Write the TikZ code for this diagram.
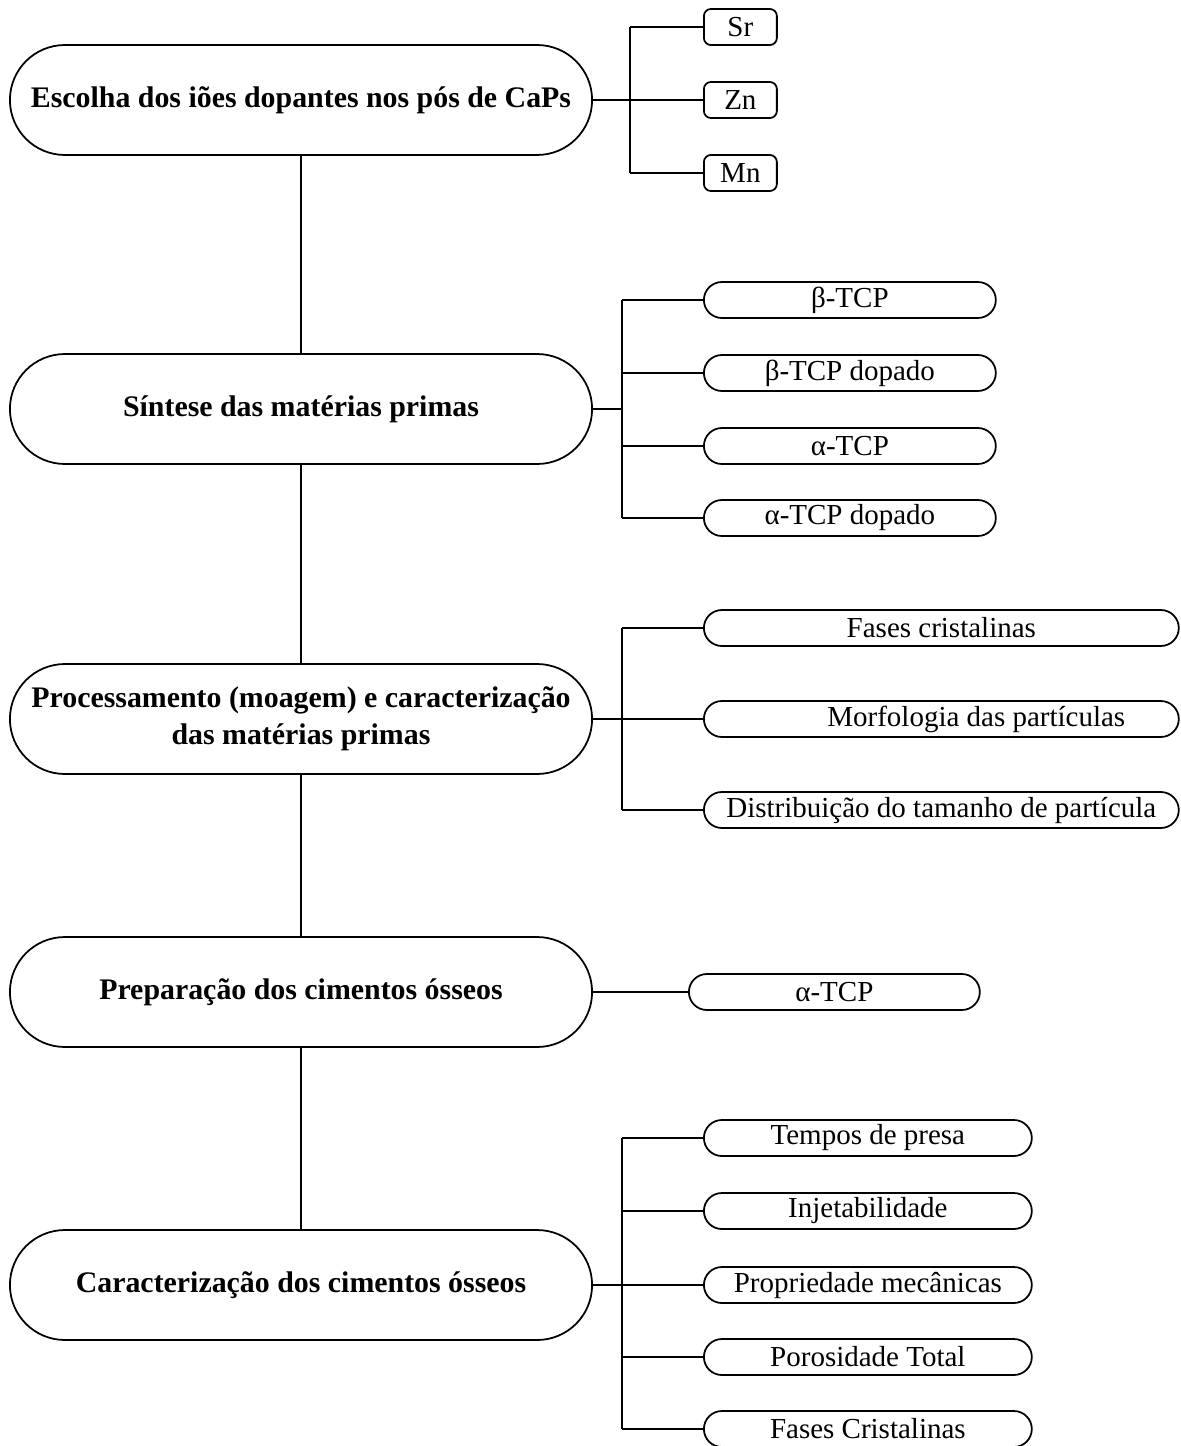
\documentclass[tikz,border=0pt]{standalone}
\usepackage{fontspec}
\setmainfont{Liberation Serif}
\usepackage{xcolor}
\usepackage{tikz}
\usetikzlibrary{positioning, shapes.misc}

\tikzset{
  liga/.style={line width=1pt},
  etapa/.style={draw, rounded rectangle, line width=1pt, minimum width=11.88cm,
    minimum height=2.2cm, align=center, font=\fontsize{17}{21}\selectfont\bfseries},
  item/.style={draw, rounded rectangle, line width=1pt, minimum height=0.72cm,
    inner sep=0pt, anchor=west, font=\fontsize{16.5}{20}\selectfont},
  ion/.style={draw, rounded corners=4pt, line width=1pt, minimum width=1.46cm,
    minimum height=0.72cm, inner sep=0pt, anchor=west, font=\fontsize{16.5}{20}\selectfont}
}

\begin{document}
\begin{tikzpicture}[x=0.02cm, y=-0.02cm]
    \useasboundingbox (0,0) rectangle (1180,1446);
    % etapas principais
    \node[etapa] (esc) at (301,100) {Escolha dos iões dopantes nos pós de CaPs};
    \node[etapa] (sin) at (301,409) {Síntese das matérias primas};
    \node[etapa] (proc) at (301,719) {Processamento (moagem) e caracterização\\das matérias primas};
    \node[etapa] (prep) at (301,992) {Preparação dos cimentos ósseos};
    \node[etapa] (carac) at (301,1285) {Caracterização dos cimentos ósseos};
    \draw[liga] (esc) -- (sin) (sin) -- (proc) (proc) -- (prep) (prep) -- (carac);

    % iões dopantes
    \coordinate (esc-r) at (630,100);
    \draw[liga] (esc.east) -- (esc-r);
    \foreach \nome/\txt/\yp in {sr/Sr/27, zn/Zn/100, mn/Mn/173} {
      \node[ion] (\nome) at (703,\yp) {\txt};
      \draw[liga] (esc-r |- \nome.west) -- (\nome.west);
    }
    \draw[liga] (esc-r |- sr.west) -- (esc-r |- mn.west);

    % matérias primas
    \coordinate (sin-r) at (622,409);
    \draw[liga] (sin.east) -- (sin-r);
    \foreach \nome/\txt/\yp in {bt/β-TCP/300, btd/β-TCP dopado/373,
        at/α-TCP/446, atd/α-TCP dopado/518} {
      \node[item, minimum width=5.84cm] (\nome) at (703,\yp) {\txt};
      \draw[liga] (sin-r |- \nome.west) -- (\nome.west);
    }
    \draw[liga] (sin-r |- bt.west) -- (sin-r |- atd.west);

    % caracterização dos pós
    \coordinate (proc-r) at (622,719);
    \draw[liga] (proc.east) -- (proc-r);
    \foreach \nome/\txt/\yp in {fc/Fases cristalinas/628,
        mp/\hspace*{1.4cm}Morfologia das partículas/719,
        dtp/Distribuição do tamanho de partícula/810} {
      \node[item, minimum width=9.5cm] (\nome) at (703,\yp) {\txt};
      \draw[liga] (proc-r |- \nome.west) -- (\nome.west);
    }
    \draw[liga] (proc-r |- fc.west) -- (proc-r |- dtp.west);

    % cimentos
    \node[item, minimum width=5.82cm] (atcp) at (688,992) {α-TCP};
    \draw[liga] (prep.east) -- (atcp.west);

    % caracterização dos cimentos
    \coordinate (carac-r) at (622,1285);
    \draw[liga] (carac.east) -- (carac-r);
    \foreach \nome/\txt/\yp in {tp/Tempos de presa/1138, inj/Injetabilidade/1211,
        pm/Propriedade mecânicas/1285, pt/Porosidade Total/1357,
        fcc/Fases Cristalinas/1429} {
      \node[item, minimum width=6.56cm] (\nome) at (703,\yp) {\txt};
      \draw[liga] (carac-r |- \nome.west) -- (\nome.west);
    }
    \draw[liga] (carac-r |- tp.west) -- (carac-r |- fcc.west);
\end{tikzpicture}
\end{document}
